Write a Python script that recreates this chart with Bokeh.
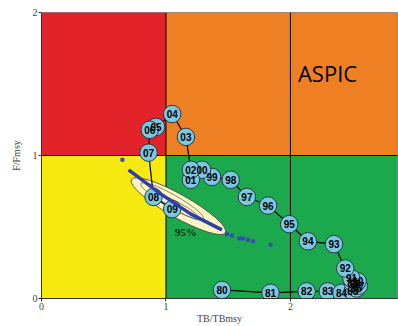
import numpy as np
from bokeh.plotting import figure
from bokeh.models import ColumnDataSource, Range1d, FixedTicker, Label
from bokeh.core.properties import value
from bokeh.embed import file_html
from bokeh.resources import INLINE

# Trajectory (year label, TB/TBmsy, F/Fmsy)
years = ["80", "81", "82", "83", "84", "85", "86", "87", "88", "89",
         "90", "91", "92", "93", "94", "95", "96", "97", "98", "99",
         "00", "01", "02", "03", "04", "05", "06", "07", "08", "09"]
b_ratio = [1.45, 1.84, 2.13, 2.30, 2.41, 2.50, 2.53, 2.55, 2.52, 2.50,
           2.54, 2.49, 2.44, 2.35, 2.14, 1.99, 1.82, 1.65, 1.52, 1.37,
           1.29, 1.20, 1.20, 1.16, 1.05, 0.92, 0.87, 0.86, 0.90, 1.05]
f_ratio = [0.06, 0.04, 0.05, 0.05, 0.04, 0.05, 0.07, 0.09, 0.10, 0.11,
           0.12, 0.14, 0.21, 0.38, 0.40, 0.52, 0.65, 0.71, 0.83, 0.85,
           0.90, 0.83, 0.90, 1.13, 1.29, 1.20, 1.18, 1.02, 0.71, 0.625]

# Bootstrap / projection cloud
trend_x = [0.70, 0.96, 1.20, 1.45]
trend_y = [0.90, 0.73, 0.59, 0.48]
dots_x = [0.65, 1.49, 1.53, 1.59, 1.62, 1.66, 1.70, 1.84]
dots_y = [0.97, 0.45, 0.44, 0.42, 0.42, 0.41, 0.40, 0.375]

# Confidence region (center, size in px)
ell_x = [1.10, 1.05, 1.10]
ell_y = [0.646, 0.68, 0.64]
ell_w = [108, 72, 50]
ell_h = [23, 13, 8]

x_ticks = [0, 1, 2]
y_ticks = [0, 1, 2]

p = figure(width=398, height=326, output_backend="svg", toolbar_location=None,
           x_range=Range1d(0, 2.86), y_range=Range1d(0, 2),
           min_border_left=41, min_border_right=1, min_border_top=12, min_border_bottom=26)
p.background_fill_color = "white"
p.border_fill_color = "white"
p.outline_line_color = "#888888"
p.grid.visible = False

# quadrants
p.quad(left=[0, 1, 0, 1], right=[1, 2.86, 1, 2.86], bottom=[1, 1, 0, 0], top=[2, 2, 1, 1],
       fill_color=["#E2232A", "#EE7F22", "#F6EA10", "#1CA84D"], line_color=None)
p.segment(x0=[1, 0, 2], y0=[0, 1, 0], x1=[1, 2.86, 2], y1=[2, 1, 2], line_color="black", line_width=1)

# ellipses
ang = -29.5 * np.pi / 180
p.ellipse(x=ell_x[0], y=ell_y[0], width=ell_w[0], height=ell_h[0], angle=ang,
          width_units="screen", height_units="screen",
          fill_color="#FFF4C4", line_color="#3a3a3a", line_width=0.8)
p.ellipse(x=ell_x[1:], y=ell_y[1:], width=ell_w[1:], height=ell_h[1:], angle=ang,
          width_units="screen", height_units="screen",
          fill_color=None, line_color="#555555", line_width=0.7)

# trajectory
p.line(b_ratio, f_ratio, line_color="black", line_width=1.2)
src = ColumnDataSource(dict(x=b_ratio, y=f_ratio, t=years))
p.scatter("x", "y", source=src, size=17.5, fill_color="#7CC8E2", line_color="#2a3a44", line_width=1)
p.text("x", "y", text="t", source=src, text_align="center", text_baseline="middle",
       text_font=value("Liberation Sans"), text_font_size="10px", text_font_style="bold",
       text_color="black")

# trend
p.line(trend_x, trend_y, line_color="#2E3FA8", line_width=3.5)
p.scatter(dots_x, dots_y, marker="square", size=3, fill_color="#3A4BB0", line_color="#3A4BB0")

p.add_layout(Label(x=1.07, y=0.465, text="95%", text_font="Liberation Serif",
                   text_font_size="11px", text_font_style="bold", text_color="#1b2b1b",
                   text_baseline="middle"))
p.add_layout(Label(x=2.06, y=1.58, text="ASPIC", text_font="Open Sans",
                   text_font_size="22px", text_color="black", text_baseline="middle"))

for ax in (p.xaxis[0], p.yaxis[0]):
    ax.major_label_text_font = "Liberation Serif"
    ax.major_label_text_font_size = "10px"
    ax.axis_label_text_font = "Liberation Serif"
    ax.axis_label_text_font_size = "10px"
    ax.axis_label_text_font_style = "normal"
    ax.minor_tick_line_color = None
    ax.major_tick_in = 0
    ax.major_tick_out = 3
    ax.axis_line_color = "#333333"
    ax.major_tick_line_color = "#333333"
    ax.major_label_standoff = 1
p.xaxis.ticker = FixedTicker(ticks=x_ticks)
p.yaxis.ticker = FixedTicker(ticks=y_ticks)
p.xaxis.axis_label = "TB/TBmsy"
p.yaxis.axis_label = "F/Fmsy"
p.xaxis.axis_label_standoff = 0
p.yaxis.axis_label_standoff = 8

open("out.html", "w").write(file_html(p, INLINE))
